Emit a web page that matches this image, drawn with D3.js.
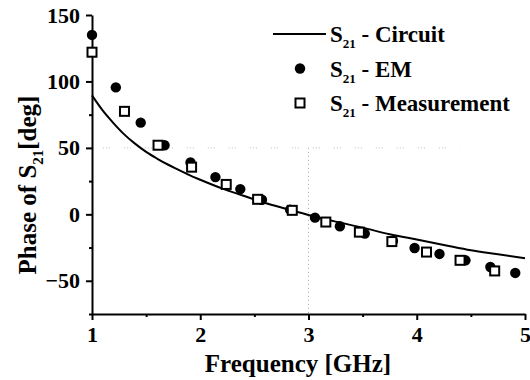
<!DOCTYPE html>
<html lang="en">
<head>
    <meta charset="utf-8" />
    <title>Phase of S21</title>
    <style>
        body { margin: 0; background: #fff; }
        text { font-family: "Liberation Serif", "Times New Roman", serif; font-weight: bold; fill: #000; }
        .axis path, .axis line { fill: none; stroke: #000; stroke-width: 2; }
        .axis text { font-size: 22px; }
    </style>
</head>
<body>
    <div id="graph"></div>
    <script src="https://d3js.org/d3.v7.min.js"></script>
    <script>
        // circuit model curve
        var circuitFreq  = [1.0, 1.1, 1.2, 1.3, 1.4, 1.5, 1.6, 1.7, 1.8, 1.9, 2.0, 2.2, 2.4, 2.6, 2.8, 3.0, 3.25, 3.5, 3.75, 4.0, 4.25, 4.5, 4.75, 5.0];
        var circuitPhase = [89.5, 78, 68.5, 60, 53, 47, 42, 37.5, 33.5, 29.5, 26, 19.5, 14, 8.5, 4, -0.5, -5.5, -10, -15, -19, -23, -27, -30, -33];

        // EM simulation points
        var emFreq  = [1.0, 1.22, 1.45, 1.67, 1.91, 2.14, 2.37, 2.57, 2.83, 3.06, 3.29, 3.52, 3.78, 3.98, 4.21, 4.45, 4.68, 4.91];
        var emPhase = [135, 95.5, 69, 52, 39, 28, 19, 11, 3.5, -2.5, -9, -14.5, -20, -25.3, -29.8, -34.6, -39.6, -44.1];

        // measurement points
        var measFreq  = [1.0, 1.30, 1.61, 1.92, 2.24, 2.53, 2.85, 3.16, 3.47, 3.77, 4.09, 4.40, 4.72];
        var measPhase = [122, 77.5, 52, 35.5, 22.5, 11.3, 3, -5.8, -13.4, -20.5, -28.4, -34.6, -42.6];

        var xTicks = [1, 2, 3, 4, 5];
        var yTicks = [-50, 0, 50, 100, 150];

        var W = 530, H = 380;
        var margin = { top: 15, right: 5, bottom: 66, left: 92 };
        var width = W - margin.left - margin.right,
            height = H - margin.top - margin.bottom;

        var x = d3.scaleLinear().domain([1, 5]).range([0, width]);
        var y = d3.scaleLinear().domain([-75, 150]).range([height, 0]);

        var svg = d3.select("#graph").append("svg")
            .attr("width", W)
            .attr("height", H)
            .append("g")
            .attr("transform", "translate(" + margin.left + "," + margin.top + ")");

        // faint dotted scan lines
        svg.append("line")
            .attr("x1", x(3)).attr("x2", x(3))
            .attr("y1", y(50)).attr("y2", height)
            .style("stroke", "#aaa").style("stroke-width", 1)
            .style("stroke-dasharray", "1,3");
        svg.append("line")
            .attr("x1", x(1.1)).attr("x2", x(4.4))
            .attr("y1", y(50)).attr("y2", y(50))
            .style("stroke", "#bbb").style("stroke-width", 1)
            .style("stroke-dasharray", "1,2,1,2,1,14");

        // minor ticks
        var xMinor = d3.axisBottom(x).tickValues([1.5, 2.5, 3.5, 4.5]).tickSize(3).tickFormat("");
        var yMinor = d3.axisLeft(y).tickValues([-75, -25, 25, 75, 125]).tickSize(3).tickFormat("");

        svg.append("g").attr("class", "axis")
            .attr("transform", "translate(0," + height + ")")
            .call(xMinor)
            .call(function (g) { g.select(".domain").remove(); });
        svg.append("g").attr("class", "axis")
            .call(yMinor)
            .call(function (g) { g.select(".domain").remove(); });

        var xAxis = d3.axisBottom(x).tickValues(xTicks).tickSize(6).tickSizeOuter(0).tickPadding(6).tickFormat(d3.format("d"));
        var yAxis = d3.axisLeft(y).tickValues(yTicks).tickSize(6).tickSizeOuter(0).tickPadding(6).tickFormat(d3.format("d"));

        svg.append("g").attr("class", "x axis")
            .attr("transform", "translate(0," + height + ")")
            .call(xAxis);

        svg.append("g").attr("class", "y axis")
            .call(yAxis);

        // circuit curve
        var circuit = circuitFreq.map(function (f, i) { return [f, circuitPhase[i]]; });
        svg.append("path")
            .datum(circuit)
            .attr("d", d3.line()
                .x(function (d) { return x(d[0]); })
                .y(function (d) { return y(d[1]); })
                .curve(d3.curveMonotoneX))
            .style("fill", "none")
            .style("stroke", "#000")
            .style("stroke-width", 2);

        // EM circles
        svg.selectAll(".em")
            .data(emFreq.map(function (f, i) { return [f, emPhase[i]]; }))
            .enter().append("circle")
            .attr("class", "em")
            .attr("cx", function (d) { return x(d[0]); })
            .attr("cy", function (d) { return y(d[1]); })
            .attr("r", 5.2)
            .style("fill", "#000");

        // measurement squares
        svg.selectAll(".meas")
            .data(measFreq.map(function (f, i) { return [f, measPhase[i]]; }))
            .enter().append("rect")
            .attr("class", "meas")
            .attr("x", function (d) { return x(d[0]) - 4.5; })
            .attr("y", function (d) { return y(d[1]) - 4.5; })
            .attr("width", 9)
            .attr("height", 9)
            .style("fill", "#fff")
            .style("stroke", "#000")
            .style("stroke-width", 2);

        // axis titles
        d3.select("svg").append("text")
            .attr("x", 298)
            .attr("y", 372)
            .attr("text-anchor", "middle")
            .style("font-size", "25px")
            .text("Frequency [GHz]");

        var yt = d3.select("svg").append("text")
            .attr("transform", "translate(36,185) rotate(-90)")
            .attr("text-anchor", "middle")
            .style("font-size", "25px");
        yt.append("tspan").text("Phase of S");
        yt.append("tspan").attr("dy", 7).style("font-size", "15px").text("21");
        yt.append("tspan").attr("dy", -7).text("[deg]");

        // legend
        var legend = [
            { label: " - Circuit", mark: "line" },
            { label: " - EM", mark: "circle" },
            { label: " - Measurement", mark: "square" }
        ];
        var lg = d3.select("svg").append("g");
        var rows = lg.selectAll("g").data(legend).enter().append("g")
            .attr("transform", function (d, i) { return "translate(0," + (34 + i * 34.5) + ")"; });

        rows.each(function (d) {
            var r = d3.select(this);
            if (d.mark === "line") {
                r.append("line").attr("x1", 273).attr("x2", 326).attr("y1", 0).attr("y2", 0)
                    .style("stroke", "#000").style("stroke-width", 2);
            } else if (d.mark === "circle") {
                r.append("circle").attr("cx", 300).attr("cy", 0).attr("r", 5.2).style("fill", "#000");
            } else {
                r.append("rect").attr("x", 295.5).attr("y", -4.5).attr("width", 9).attr("height", 9)
                    .style("fill", "#fff").style("stroke", "#000").style("stroke-width", 2);
            }
            var t = r.append("text").attr("x", 330).attr("y", 8).style("font-size", "23px");
            t.append("tspan").text("S");
            t.append("tspan").attr("dy", 6).style("font-size", "13px").text("21");
            t.append("tspan").attr("dy", -6).text(d.label);
        });
    </script>
</body>
</html>
